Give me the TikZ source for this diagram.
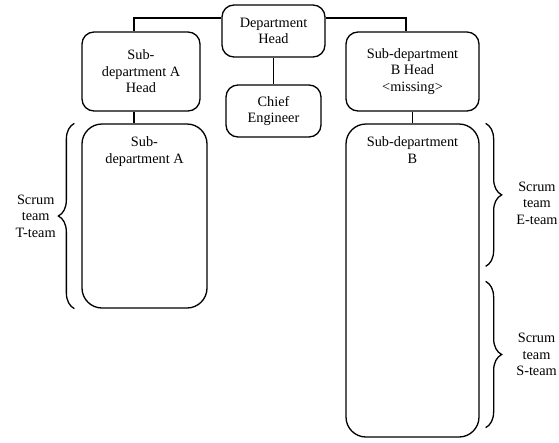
\documentclass[tikz,border=0pt]{standalone}
\usepackage{fontspec}
\setmainfont{Liberation Serif}
\usetikzlibrary{positioning, decorations.pathreplacing}

\begin{document}
\begin{tikzpicture}[x=1pt, y=-1pt, headnode/.style={rectangle, rounded corners=12pt, draw=black, line width=1.3pt, align=center, inner sep=2pt, font=\fontsize{14.3}{16.5}\selectfont}, deptnode/.style={rectangle, rounded corners=20pt, draw=black, line width=1.3pt}, deptlabel/.style={anchor=north, yshift=-10pt, align=center, font=\fontsize{14.3}{16.5}\selectfont}, teamtext/.style={align=center, inner sep=0pt, font=\fontsize{14.3}{16.5}\selectfont}, teambrace/.style={decorate, decoration={brace, amplitude=16pt}, line width=1.3pt}, link/.style={line width=1.1pt}]
    
    \useasboundingbox (0,0) rectangle (559,442);
    
    %Nodes
    \node[headnode, minimum width=103pt, minimum height=52pt](depthead) at (273.5,31){Department\\Head};
    \node[headnode, minimum width=118pt, minimum height=79pt](subahead) at (141,71.5){Sub-\\department A\\Head};
    \node[headnode, minimum width=95pt, minimum height=52pt](chief) at (273.5,111){Chief\\Engineer};
    \node[headnode, minimum width=133pt, minimum height=79pt](subbhead) at (412.5,71.5){Sub-department\\B Head\\<missing>};
    \node[deptnode, minimum width=125pt, minimum height=184pt, label={[deptlabel]north:Sub-\\department A}](subadept) at (144.5,216){};
    \node[deptnode, minimum width=133pt, minimum height=313pt, label={[deptlabel]north:Sub-department\\B}](subbdept) at (412.5,280.5){};
    
    %Lines
    \draw[link] ([yshift=13pt]depthead.west) -| ([xshift=-7pt]subahead.north);
    \draw[link] ([yshift=13pt]depthead.east) -| ([xshift=-6.5pt]subbhead.north);
    \draw[link] (depthead.south) -- (chief.north);
    \draw[link] ([xshift=-7pt]subahead.south) -- ([xshift=-7pt]subahead.south |- subadept.north);
    \draw[link] (subbhead.south) -- (subbdept.north);
    
    %Braces
    \draw[teambrace] ([xshift=-7pt]subadept.south west) -- ([xshift=-7pt]subadept.north west) node[teamtext, midway, left=18pt](tteam){Scrum\\team\\T-team};
    \draw[teambrace] ([xshift=6pt]subbdept.north east) -- ([xshift=6pt, yshift=-143pt]subbdept.north east) node[teamtext, midway, right=30pt, yshift=-8pt](eteam){Scrum\\team\\E-team};
    \draw[teambrace] ([xshift=6pt, yshift=-158pt]subbdept.north east) -- ([xshift=6pt, yshift=10pt]subbdept.south east) node[teamtext, midway, right=30pt](steam){Scrum\\team\\S-team};
    
\end{tikzpicture}
\end{document}
